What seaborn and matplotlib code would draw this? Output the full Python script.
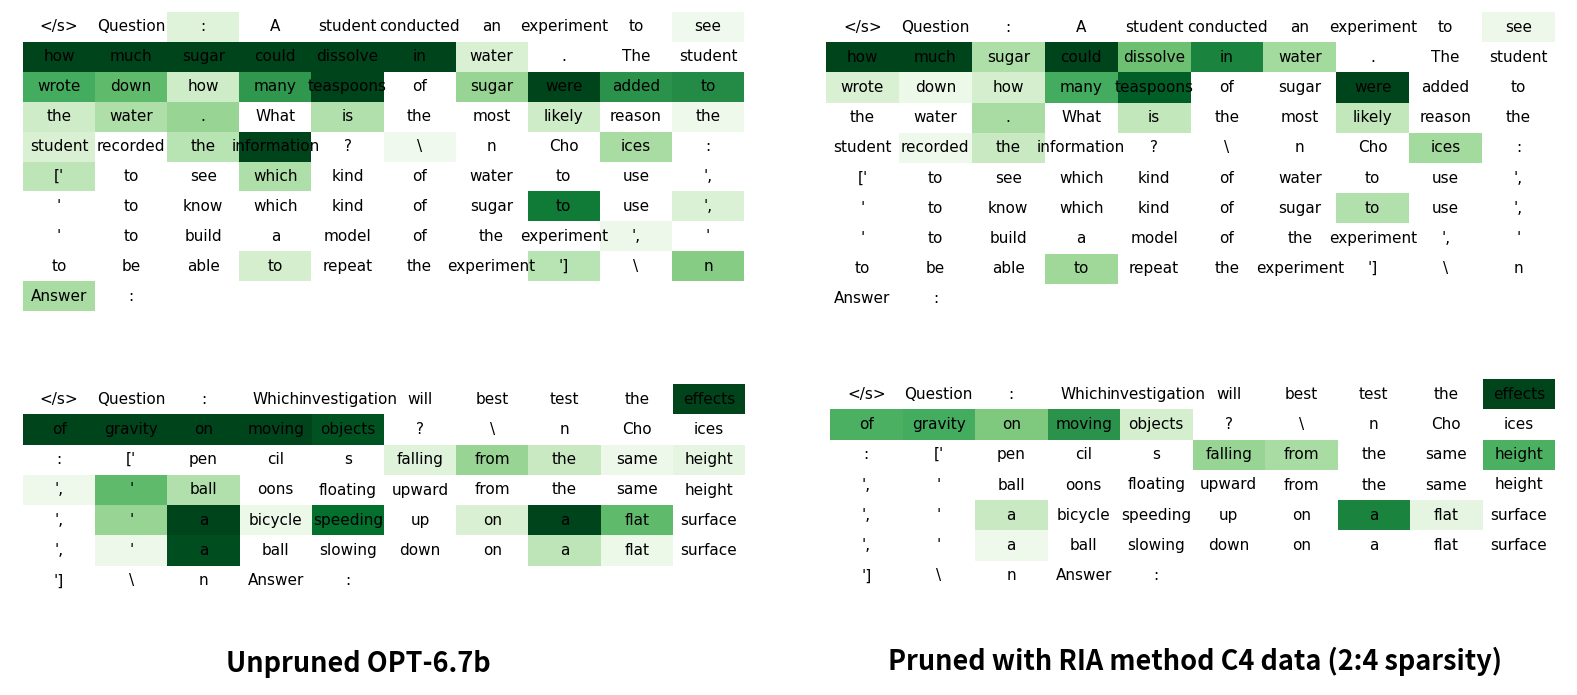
import numpy as np
import seaborn as sns
import matplotlib.pyplot as plt
import matplotlib as mpl

# tokens of the two prompts (10 per row)
q1_tokens = [
    ["</s>", "Question", ":", "A", "student", "conducted", "an", "experiment", "to", "see"],
    ["how", "much", "sugar", "could", "dissolve", "in", "water", ".", "The", "student"],
    ["wrote", "down", "how", "many", "teaspoons", "of", "sugar", "were", "added", "to"],
    ["the", "water", ".", "What", "is", "the", "most", "likely", "reason", "the"],
    ["student", "recorded", "the", "information", "?", "\\", "n", "Cho", "ices", ":"],
    ["['", "to", "see", "which", "kind", "of", "water", "to", "use", "',"],
    ["'", "to", "know", "which", "kind", "of", "sugar", "to", "use", "',"],
    ["'", "to", "build", "a", "model", "of", "the", "experiment", "',", "'"],
    ["to", "be", "able", "to", "repeat", "the", "experiment", "']", "\\", "n"],
    ["Answer", ":"],
]
q2_tokens = [
    ["</s>", "Question", ":", "Which", "investigation", "will", "best", "test", "the", "effects"],
    ["of", "gravity", "on", "moving", "objects", "?", "\\", "n", "Cho", "ices"],
    [":", "['", "pen", "cil", "s", "falling", "from", "the", "same", "height"],
    ["',", "'", "ball", "oons", "floating", "upward", "from", "the", "same", "height"],
    ["',", "'", "a", "bicycle", "speeding", "up", "on", "a", "flat", "surface"],
    ["',", "'", "a", "ball", "slowing", "down", "on", "a", "flat", "surface"],
    ["']", "\\", "n", "Answer", ":"],
]

# attention scores, unpruned model
unpruned_q1 = [
    [0, 0, 0.15, 0, 0, 0, 0, 0, 0, 0.05],
    [1, 1, 1, 1, 1, 1, 0.18, 0, 0, 0],
    [0.62, 0.55, 0.22, 0.7, 1, 0, 0.4, 1, 0.72, 0.75],
    [0.22, 0.33, 0.4, 0, 0.32, 0, 0, 0.22, 0, 0.06],
    [0.18, 0, 0.3, 1, 0, 0.05, 0, 0, 0.35, 0],
    [0.28, 0, 0, 0.33, 0, 0, 0, 0, 0, 0],
    [0, 0, 0, 0, 0, 0, 0, 0.82, 0, 0.17],
    [0, 0, 0, 0, 0, 0, 0, 0, 0.07, 0],
    [0, 0, 0, 0.2, 0, 0, 0, 0.3, 0, 0.45],
    [0.35, 0],
]
unpruned_q2 = [
    [0, 0, 0, 0, 0, 0, 0, 0, 0, 1],
    [1, 1, 1, 1, 0.95, 0, 0, 0, 0, 0],
    [0, 0, 0, 0, 0, 0.15, 0.4, 0.25, 0.07, 0.12],
    [0.06, 0.55, 0.32, 0, 0, 0, 0, 0, 0, 0],
    [0, 0.4, 1, 0.08, 0.86, 0, 0.18, 1, 0.55, 0],
    [0, 0.07, 0.97, 0, 0, 0, 0, 0.28, 0.08, 0],
    [0, 0, 0, 0, 0],
]

# attention scores, pruned model (RIA, C4, 2:4)
pruned_q1 = [
    [0, 0, 0, 0, 0, 0, 0, 0, 0, 0.07],
    [1, 1, 0.33, 1, 0.52, 0.78, 0.37, 0, 0, 0],
    [0.18, 0.08, 0.2, 0.62, 0.92, 0, 0, 1, 0, 0],
    [0, 0, 0.35, 0, 0.27, 0, 0, 0.27, 0, 0],
    [0, 0.06, 0.25, 0, 0, 0, 0, 0, 0.37, 0],
    [0, 0, 0, 0, 0, 0, 0, 0, 0, 0],
    [0, 0, 0, 0, 0, 0, 0, 0.32, 0, 0],
    [0, 0, 0, 0, 0, 0, 0, 0, 0, 0],
    [0, 0, 0, 0.38, 0, 0, 0, 0, 0, 0],
    [0, 0],
]
pruned_q2 = [
    [0, 0, 0, 0, 0, 0, 0, 0, 0, 1],
    [0.6, 0.62, 0.47, 0.72, 0.2, 0, 0, 0, 0, 0],
    [0, 0, 0, 0, 0, 0.4, 0.35, 0, 0, 0.6],
    [0, 0, 0, 0, 0, 0, 0, 0, 0, 0],
    [0, 0, 0.25, 0, 0, 0, 0, 0.78, 0.12, 0],
    [0, 0, 0.06, 0, 0, 0, 0, 0, 0, 0],
    [0, 0, 0, 0, 0],
]

titles = ["Unpruned OPT-6.7b", "Pruned with RIA method C4 data (2:4 sparsity)"]


def pad(rows, fill):
    return np.array([list(r) + [fill] * (10 - len(r)) for r in rows], dtype=object)


W, H = 1577, 695


def rect(x0, y0, x1, y1):
    return [x0 / W, 1 - y1 / H, (x1 - x0) / W, (y1 - y0) / H]


cmap = mpl.colormaps["Greens"].copy()
cmap.set_under("white")

fig = plt.figure(figsize=(W / 100, H / 100), dpi=100)

panels = [
    (unpruned_q1, q1_tokens, (23, 12, 744, 311)),
    (pruned_q1, q1_tokens, (826, 12, 1555, 314)),
    (unpruned_q2, q2_tokens, (23, 384, 745, 596)),
    (pruned_q2, q2_tokens, (830, 379, 1555, 591)),
]

for vals, toks, box in panels:
    ax = fig.add_axes(rect(*box))
    data = pad(vals, np.nan).astype(float)
    labels = pad(toks, "")
    sns.heatmap(data, ax=ax, cmap=cmap, vmin=1e-3, vmax=1, mask=np.isnan(data),
                annot=labels, fmt="", cbar=False,
                annot_kws={"color": "black", "fontsize": 11},
                xticklabels=False, yticklabels=False)
    ax.set_xlabel("")
    ax.set_ylabel("")

fig.text(358 / W, 1 - 664 / H, titles[0], ha="center", va="center",
         fontsize=19.5, fontweight="bold", family=["Noto Sans CJK SC", "DejaVu Sans"])
fig.text(1195 / W, 1 - 661 / H, titles[1], ha="center", va="center",
         fontsize=19.5, fontweight="bold", family=["Noto Sans CJK SC", "DejaVu Sans"])

fig.savefig("out.png", dpi=100)
